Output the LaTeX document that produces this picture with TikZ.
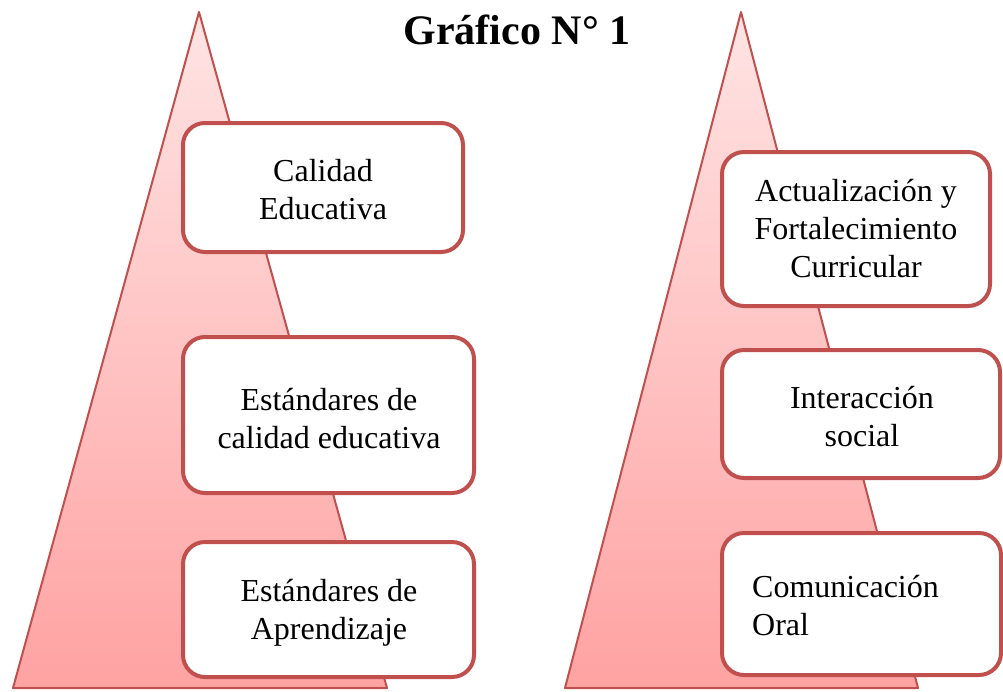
\documentclass[tikz,border=0pt]{standalone}
\usepackage{fontspec}
\setmainfont{Liberation Serif}
\definecolor{edge}{HTML}{C0504D}
\definecolor{pinktop}{HTML}{FFE4E4}
\definecolor{pinkbot}{HTML}{FFA2A2}
\begin{document}
\begin{tikzpicture}[x=1pt,y=-1pt,
  pyramid/.style={draw=edge, line width=2pt, line join=round, top color=pinktop, bottom color=pinkbot},
  boxstyle/.style={draw=edge, line width=4pt, fill=white, rounded corners=22pt, inner sep=0pt},
  boxtext/.style={font=\fontsize{32}{38}\selectfont, align=center, inner sep=0pt}]
\useasboundingbox (0,0) rectangle (1003,691);
% left pyramid
\path[pyramid] (199,12) -- (387,688) -- (13,688) -- cycle;
% right pyramid
\path[pyramid] (741,12) -- (918,688) -- (565,688) -- cycle;
% title
\node[font=\bfseries\fontsize{42}{48}\selectfont, inner sep=0pt] (title) at (517,30) {Gráfico N° 1};
% left boxes
\draw[boxstyle] (183,123) rectangle (463,252);
\node[boxtext] (l1) at (323,190) {Calidad\\Educativa};
\draw[boxstyle] (183,337) rectangle (474,493);
\node[boxtext] (l2) at (329,419) {Estándares de\\calidad educativa};
\draw[boxstyle] (183,542) rectangle (474,677);
\node[boxtext] (l3) at (329,613) {Estándares de\\Aprendizaje};
% right boxes
\draw[boxstyle] (722,152) rectangle (990,306);
\node[boxtext] (r1) at (856,229) {Actualización y\\Fortalecimiento\\Curricular};
\draw[boxstyle] (722,350) rectangle (1000,478);
\node[boxtext] (r2) at (862,417) {Interacción\\social};
\draw[boxstyle] (722,533) rectangle (1001,675);
\node[boxtext, align=left, anchor=west] (r3) at (752,606) {Comunicación\\Oral};
\end{tikzpicture}
\end{document}
